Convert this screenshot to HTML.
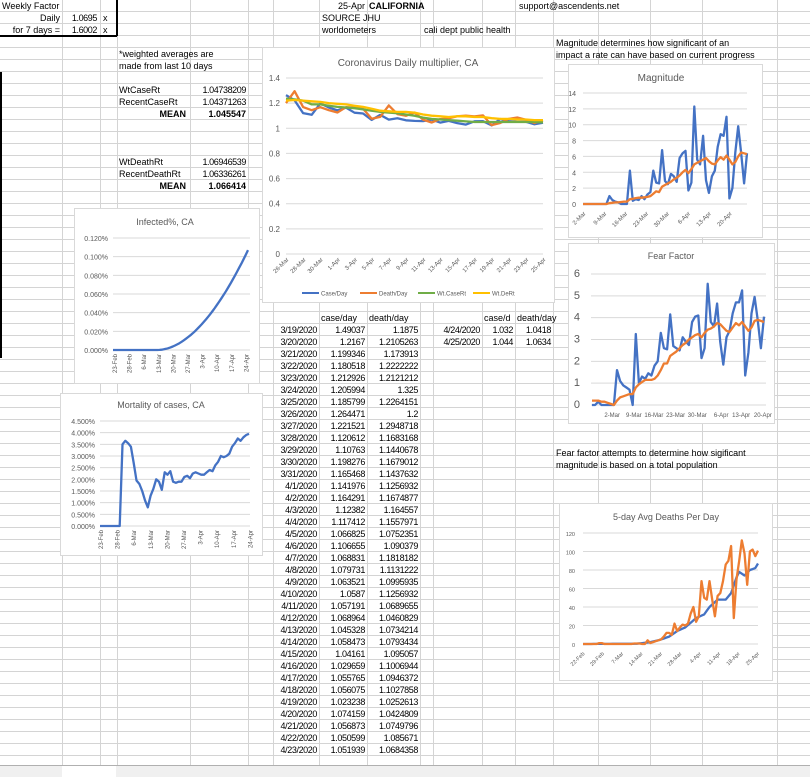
<!DOCTYPE html>
<html><head><meta charset="utf-8">
<style>
body{margin:0;width:810px;height:777px;overflow:hidden;background:#fff;font-family:"Liberation Sans",Arial,sans-serif;}
#wrap{position:relative;width:810px;height:777px;}
.t{position:absolute;font-size:9px;line-height:12px;height:12px;white-space:nowrap;color:#000;}
.n{letter-spacing:-0.4px;}
.r{text-align:right;}
.b{font-weight:bold;}
svg{position:absolute;left:0;top:0;}
</style></head><body><div id="wrap">
<svg id="g" width="810" height="777" xmlns="http://www.w3.org/2000/svg"></svg>
<div id="txt"></div>
</div>
<script>
var NS="http://www.w3.org/2000/svg",g=document.getElementById('g');
function el(n,a,p){var e=document.createElementNS(NS,n);for(var k in a)e.setAttribute(k,a[k]);(p||g).appendChild(e);return e;}
function line(x1,y1,x2,y2,c,w){return el('line',{x1:x1,y1:y1,x2:x2,y2:y2,stroke:c,'stroke-width':w||1});}
function text(x,y,s,o){o=o||{};var e=el('text',{x:x,y:y,'font-size':o.fs||8,fill:o.c||'#595959','font-family':'Liberation Sans, sans-serif','text-anchor':o.a||'start'});if(o.rot)e.setAttribute('transform','rotate('+o.rot+' '+x+' '+y+')');e.textContent=s;return e;}
for(var k=1;k<=63;k++)line(0,12*k-0.5,810,12*k-0.5,'#d4d4d4');
[62,100,117,190,248,273,319,367,420,433,482,515,553,598,650,702,777].forEach(function(x){line(x+0.5,0,x+0.5,765,'#d4d4d4');});
line(117,0,117,36,'#000',2);line(0,36,117,36,'#000',2);line(1,72,1,358,'#000',2);
el('rect',{x:0,y:765,width:810,height:12,fill:'#f0f0f0'});line(0,765.5,810,765.5,'#b0b0b0');
el('rect',{x:62,y:766,width:54,height:11,fill:'#fff'});

var T=document.getElementById('txt');
function t(x,y,s,cls,w){var d=document.createElement('div');d.className='t '+(cls||'');d.style.top=y+'px';if(cls&&cls.indexOf('r')>=0){d.style.left=(x-w)+'px';d.style.width=w+'px';}else d.style.left=x+'px';d.textContent=s;T.appendChild(d);}
t(2,0,'Weekly Factor');t(60,12,'Daily','r',60);t(97,12,'1.0695','r n',40);t(103,12,'x');
t(60,24,'for 7 days =','r',60);t(97,24,'1.6002','r n',40);t(103,24,'x');
t(365,0,'25-Apr','r',50);t(369,0,'CALIFORNIA','b');t(519,0,'support@ascendents.net');
t(322,12,'SOURCE JHU');t(322,24,'worldometers');t(424,24,'cali dept public health');
t(556,37,'Magnitude determines how significant of an');t(556,49,'impact a rate can have based on current progress');
t(119,48,'*weighted averages are');t(119,60,'made from last 10 days');
t(119,84,'WtCaseRt');t(246,84,'1.04738209','r n',60);t(119,96,'RecentCaseRt');t(246,96,'1.04371263','r n',60);
t(186,108,'MEAN','r b',60);t(246,108,'1.045547','r b',60);
t(119,156,'WtDeathRt');t(246,156,'1.06946539','r n',60);t(119,168,'RecentDeathRt');t(246,168,'1.06336261','r n',60);
t(186,180,'MEAN','r b',60);t(246,180,'1.066414','r b',60);
t(556,447,'Fear factor attempts to determine how sigificant');t(556,459,'magnitude is based on a total population');
t(321,312,'case/day');t(369,312,'death/day');t(484,312,'case/d');t(517,312,'death/day');
var rows=[['3/19/2020','1.49037','1.1875'],['3/20/2020','1.2167','1.2105263'],['3/21/2020','1.199346','1.173913'],['3/22/2020','1.180518','1.2222222'],['3/23/2020','1.212926','1.2121212'],['3/24/2020','1.205994','1.325'],['3/25/2020','1.185799','1.2264151'],['3/26/2020','1.264471','1.2'],['3/27/2020','1.221521','1.2948718'],['3/28/2020','1.120612','1.1683168'],['3/29/2020','1.10763','1.1440678'],['3/30/2020','1.198276','1.1679012'],['3/31/2020','1.165468','1.1437632'],['4/1/2020','1.141976','1.1256932'],['4/2/2020','1.164291','1.1674877'],['4/3/2020','1.12382','1.164557'],['4/4/2020','1.117412','1.1557971'],['4/5/2020','1.066825','1.0752351'],['4/6/2020','1.106655','1.090379'],['4/7/2020','1.068831','1.1818182'],['4/8/2020','1.079731','1.1131222'],['4/9/2020','1.063521','1.0995935'],['4/10/2020','1.0587','1.1256932'],['4/11/2020','1.057191','1.0689655'],['4/12/2020','1.068964','1.0460829'],['4/13/2020','1.045328','1.0734214'],['4/14/2020','1.058473','1.0793434'],['4/15/2020','1.04161','1.095057'],['4/16/2020','1.029659','1.1006944'],['4/17/2020','1.055765','1.0946372'],['4/18/2020','1.056075','1.1027858'],['4/19/2020','1.023238','1.0252613'],['4/20/2020','1.074159','1.0424809'],['4/21/2020','1.056873','1.0749796'],['4/22/2020','1.050599','1.085671'],['4/23/2020','1.051939','1.0684358']];
rows.forEach(function(r,i){var y=324+12*i;t(317,y,r[0],'r n',46);t(365,y,r[1],'r n',46);t(418,y,r[2],'r n',52);});
t(480,324,'4/24/2020','r n',48);t(513,324,'1.032','r n',32);t(551,324,'1.0418','r n',36);
t(480,336,'4/25/2020','r n',48);t(513,336,'1.044','r n',32);t(551,336,'1.0634','r n',36);

function chart(c){
 el('rect',{x:c.bx+0.5,y:c.by+0.5,width:c.bw,height:c.bh,fill:'#fff',stroke:'#d9d9d9'});
 text(c.tx,c.ty,c.title,{fs:c.tfs||10.5,a:'middle'});
 var n=c.ticks.length-1;
 for(var i=0;i<=n;i++){var y=c.y0+(c.y1-c.y0)*i/n;
  if(i>0)line(c.px0,y,c.px1,y,'#d9d9d9');
  text(c.lx,y+3,c.ticks[i],{fs:c.lfs||8,a:'end'});}
 line(c.px0,c.y0,c.px1,c.y0,'#d9d9d9');
 c.series.forEach(function(s){
  var d=s.d,m=d.length,pts=[];
  var xs=s.x0!==undefined?s.x0:c.px0,xe=s.x1!==undefined?s.x1:c.px1;
  for(var j=0;j<m;j++){var x=xs+(xe-xs)*j/(m-1);var y=c.y0-(d[j]-c.vmin)/(c.vmax-c.vmin)*(c.y0-c.y1);pts.push(x.toFixed(1)+','+y.toFixed(1));}
  el('polyline',{points:pts.join(' '),fill:'none',stroke:s.c,'stroke-width':s.w||2.3,'stroke-linejoin':'round'});
 });
 c.xl.forEach(function(l){text(l[0],l[1],l[2],{fs:c.xfs||6.5,a:'end',rot:c.rot});});
}
var B='#4472c4',O='#ed7d31',G='#70ad47',Y='#ffc000';
var mx=[];var labs=['26-Mar','28-Mar','30-Mar','1-Apr','3-Apr','5-Apr','7-Apr','9-Apr','11-Apr','13-Apr','15-Apr','17-Apr','19-Apr','21-Apr','23-Apr','25-Apr'];
labs.forEach(function(l,i){var x=286+(543-286)*i/15;mx.push([x+3,260,l]);});
chart({bx:262,by:47,bw:292,bh:255,title:'Coronavirus Daily multiplier, CA',tx:408,ty:66,tfs:10,
 ticks:['0','0.2','0.4','0.6','0.8','1','1.2','1.4'],y0:254,y1:78,px0:286,px1:543,lx:280,vmin:0,vmax:1.4,lfs:8,rot:-45,xfs:6,
 series:[
 {c:B,d:[1.264,1.2215,1.1206,1.1076,1.1983,1.1655,1.142,1.1643,1.1238,1.1174,1.0668,1.1067,1.0688,1.0797,1.0635,1.0587,1.0572,1.069,1.0453,1.0585,1.0412,1.0297,1.0558,1.0561,1.0232,1.0742,1.0569,1.0506,1.0519,1.032,1.044]},
 {c:O,d:[1.2,1.2949,1.1683,1.1441,1.1679,1.1438,1.1257,1.1675,1.1646,1.1558,1.0752,1.0904,1.1818,1.1131,1.0996,1.1257,1.069,1.0461,1.0734,1.0793,1.0951,1.1007,1.0946,1.1028,1.0253,1.0424,1.075,1.0857,1.0684,1.0418,1.0634]},
 {c:G,d:[1.235,1.23,1.22,1.19,1.19,1.18,1.17,1.165,1.16,1.15,1.14,1.13,1.125,1.12,1.11,1.1,1.085,1.075,1.07,1.065,1.06,1.055,1.05,1.05,1.05,1.05,1.05,1.05,1.05,1.05,1.048]},
 {c:Y,d:[1.22,1.225,1.22,1.215,1.21,1.2,1.195,1.19,1.18,1.17,1.155,1.14,1.135,1.13,1.13,1.125,1.11,1.1,1.095,1.09,1.095,1.095,1.09,1.09,1.08,1.075,1.075,1.07,1.07,1.065,1.065]}],
 xl:mx});
[[302,B,'Case/Day'],[360,O,'Death/Day'],[418,G,'Wt.CaseRt'],[473,Y,'Wt.DeRt']].forEach(function(l){line(l[0],293,l[0]+17,293,l[1],2);text(l[0]+19,295.5,l[2],{fs:6});});
var mg=[];['2-Mar','9-Mar','16-Mar','23-Mar','30-Mar','6-Apr','13-Apr','20-Apr'].forEach(function(l,i){mg.push([586+i*20.9,214,l]);});
chart({bx:568,by:64,bw:194,bh:173,title:'Magnitude',tx:661,ty:81,tfs:10,
 ticks:['0','2','4','6','8','10','12','14'],y0:204,y1:93,px0:583,px1:747,lx:576,vmin:0,vmax:14,lfs:7,rot:-45,xfs:6,
 series:[{c:B,d:[0,0,0,0,0,0,0,0,0,1.0,0.5,0.3,0.2,0,0,0,4.2,0.4,0.6,0.5,1,0.6,1.2,1.5,4.2,2.7,2.6,6.8,2.9,2.5,3.8,3.5,2.8,5.8,6.4,6.7,1.7,2.7,12.3,5.6,5.0,8.6,3.0,1.4,3.5,4.2,7.2,8.8,8.6,11.0,0.7,2.0,6.5,9.8,6.5,2.6,6.4]},
 {c:O,d:[0,0,0,0,0,0,0,0,0,0.1,0.15,0.2,0.2,0.25,0.3,0.3,0.6,0.65,0.75,0.8,0.8,0.85,0.9,1.0,1.3,1.6,1.5,2.2,2.4,2.6,2.8,3.1,3.3,3.6,4.0,4.3,3.9,4.4,5.0,5.2,5.4,5.6,5.8,5.4,5.1,5.0,5.5,5.9,5.6,6.1,5.6,5.0,5.3,6.0,6.5,6.4,6.3]}],
 xl:mg});
var ff=[];['2-Mar','9-Mar','16-Mar','23-Mar','30-Mar','6-Apr','13-Apr','20-Apr'].forEach(function(l,i){ff.push([608+i*21.7,417,l]);});
chart({bx:568,by:243,bw:206,bh:180,title:'Fear Factor',tx:671,ty:259,tfs:9,
 ticks:['0','1','2','3','4','5','6'],y0:405,y1:274,px0:591,px1:766,lx:580,vmin:0,vmax:6,lfs:11,xfs:6,rot:0,
 series:[{c:B,x0:592,x1:764,d:[0,0,0.15,0,0,0,0,0,1.6,1.1,0.9,0.8,0.7,0,3.25,1.0,1.3,1.2,1.45,1.35,1.8,2.0,3.3,2.6,2.55,4.15,2.7,2.6,2.5,3.1,2.9,2.75,3.8,4.05,4.1,2.15,2.6,5.55,3.8,3.6,4.65,2.9,1.85,3.1,3.4,4.2,4.7,4.7,5.25,1.35,2.4,4.2,4.95,3.9,2.6,4.05]},
 {c:O,x0:592,x1:764,d:[0.2,0.2,0.2,0.15,0.15,0.1,0.05,0,0.2,0.35,0.4,0.45,0.5,0.5,0.8,0.95,1.05,1.15,1.15,1.15,1.2,1.35,1.6,1.9,1.9,2.25,2.35,2.45,2.6,2.75,2.85,3.0,3.1,3.2,3.25,3.1,3.3,3.45,3.5,3.6,3.75,3.7,3.55,3.4,3.35,3.55,3.75,3.65,3.8,3.6,3.4,3.55,3.85,3.9,3.85,3.8]}],
 xl:ff.map(function(a){return [a[0]+12,a[1],a[2]];})});
var dd=[];['22-Feb','29-Feb','7-Mar','14-Mar','21-Mar','28-Mar','4-Apr','11-Apr','18-Apr','25-Apr'].forEach(function(l,i){dd.push([585+i*19.4,654,l]);});
var bl=[],ol=[];
var bk=[[0,0],[20,0.3],[25,2],[28,4],[32,8],[35,14],[38,18],[42,28],[45,32],[47,40],[50,48],[53,48],[55,55],[57,72],[58,78],[60,74],[62,80],[64,82],[65,87]];
for(var i=0;i<=65;i++){for(var j=0;j<bk.length-1;j++){if(i>=bk[j][0]&&i<=bk[j+1][0]){bl.push(bk[j][1]+(bk[j+1][1]-bk[j][1])*(i-bk[j][0])/(bk[j+1][0]-bk[j][0]));break;}}}
var on=[0,0,0,0,0,0,1,1,0,0,0,0,0,0,0,0,0,0,0,0.5,0.5,0.5,0,0,4,1,2,3,4,5,8,12,12,10,22,14,18,21,20,22,33,40,24,30,68,50,48,68,48,30,52,55,68,86,90,106,28,70,90,112,98,64,100,102,95,100];
for(i=0;i<=65;i++)ol.push(i<on.length?on[i]:bl[i]);
ol[65]=101;
chart({bx:559,by:503,bw:213,bh:177,title:'5-day Avg Deaths Per Day',tx:666,ty:520,tfs:9,
 ticks:['0','20','40','60','80','100','120'],y0:644,y1:533,px0:583,px1:758,lx:575,vmin:0,vmax:120,lfs:5.5,rot:-45,xfs:5.5,
 series:[{c:B,d:bl},{c:O,d:ol}],xl:dd});
var inf=[];['23-Feb','28-Feb','6-Mar','13-Mar','20-Mar','27-Mar','3-Apr','10-Apr','17-Apr','24-Apr'].forEach(function(l,i){inf.push([117+i*14.6,354,l]);});
var id=[];for(i=0;i<62;i++){var v=0;if(i>20){var q=(i-20)/41;v=0.107*Math.pow(q,1.9);}id.push(v);}
chart({bx:74,by:208,bw:185,bh:175,title:'Infected%, CA',tx:165,ty:225,tfs:9,
 ticks:['0.000%','0.020%','0.040%','0.060%','0.080%','0.100%','0.120%'],y0:350,y1:238,px0:113,px1:250,lx:108,vmin:0,vmax:0.12,lfs:7,rot:-90,xfs:6,
 series:[{c:B,x0:113,x1:248,d:id}],xl:inf});
var mo=[];['23-Feb','28-Feb','6-Mar','13-Mar','20-Mar','27-Mar','3-Apr','10-Apr','17-Apr','24-Apr'].forEach(function(l,i){mo.push([103+i*16.6,530,l]);});
chart({bx:60,by:393,bw:202,bh:162,title:'Mortality of cases, CA',tx:161,ty:408,tfs:9,
 ticks:['0.000%','0.500%','1.000%','1.500%','2.000%','2.500%','3.000%','3.500%','4.000%','4.500%'],y0:526,y1:421,px0:100,px1:250,lx:95,vmin:0,vmax:4.5,lfs:7,rot:-90,xfs:6,
 series:[{c:B,x0:100,x1:249,d:[0,0,0,0,0,0,0,0,3.5,3.65,3.55,3.4,2.7,1.95,1.8,1.5,1.1,0.8,1.3,1.6,2.0,1.9,1.55,2.3,2.2,2.35,1.9,1.85,1.9,1.9,2.1,2.15,2.05,2.25,2.3,2.25,2.2,2.2,2.3,2.4,2.35,2.6,2.75,3.0,2.95,3.0,3.1,3.4,3.55,3.75,3.65,3.8,3.9,3.95]}],
 xl:mo});
</script>
</body></html>
